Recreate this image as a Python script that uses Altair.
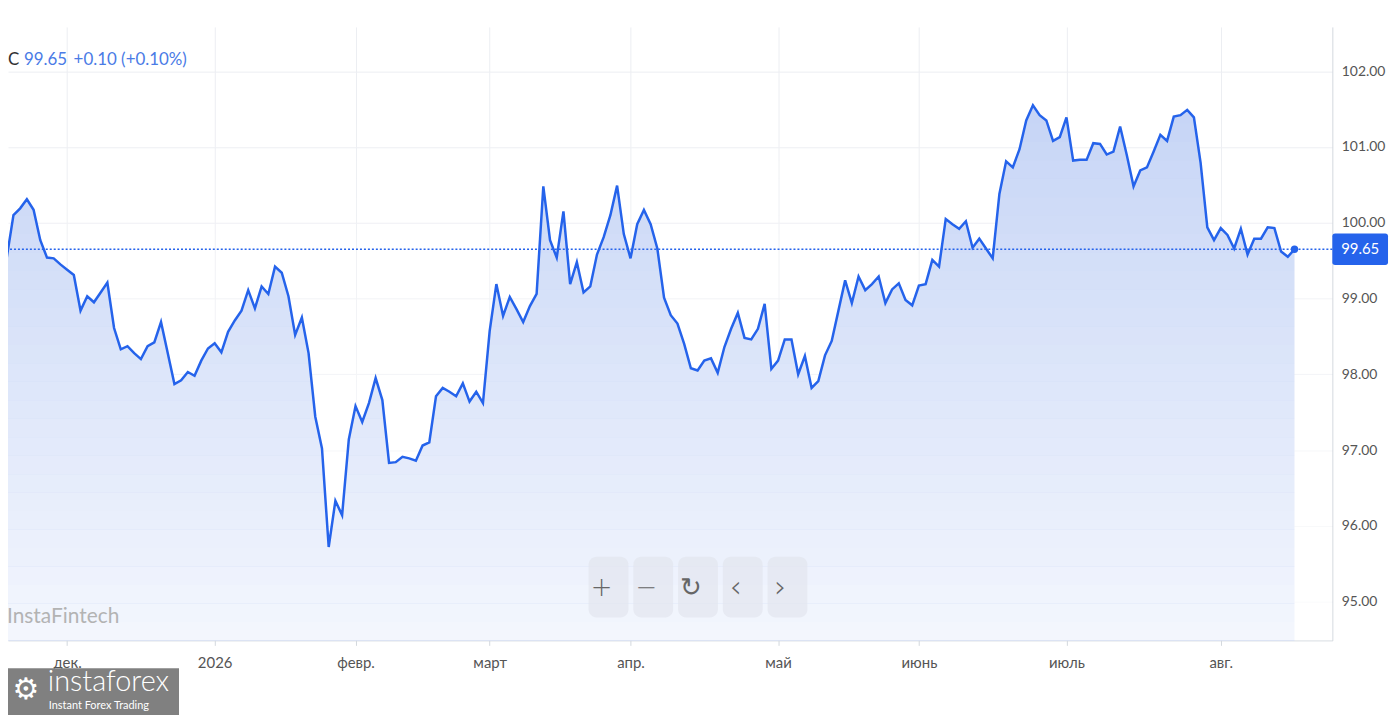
import altair as alt
import pandas as pd

# closing values per trading day, grouped by month
nov = [99.51, 99.54, 100.10, 100.19, 100.31, 100.17, 99.77, 99.54, 99.53, 99.45]
dec = [99.38, 99.31, 98.84, 99.03, 98.95, 99.08, 99.21, 98.61, 98.33, 98.37, 98.28,
       98.20, 98.37, 98.42, 98.69, 98.28, 97.87, 97.92, 98.03, 97.98, 98.18, 98.34]
jan = [98.41, 98.29, 98.56, 98.71, 98.84, 99.11, 98.87, 99.16, 99.06, 99.42, 99.34,
       99.03, 98.52, 98.75, 98.28, 97.44, 97.02, 95.72, 96.33, 96.14, 97.14]
feb = [97.58, 97.37, 97.62, 97.95, 97.66, 96.83, 96.84, 96.91, 96.89, 96.86, 97.06,
       97.10, 97.71, 97.82, 97.77, 97.71, 97.88, 97.64, 97.77, 97.62]
mar = [98.57, 99.19, 98.77, 99.02, 98.86, 98.69, 98.90, 99.06, 100.48, 99.77, 99.54,
       100.15, 99.19, 99.48, 99.08, 99.16, 99.58, 99.81, 100.10, 100.49, 99.85]
apr = [99.53, 99.98, 100.17, 99.98, 99.66, 99.01, 98.78, 98.67, 98.40, 98.08, 98.05,
       98.18, 98.21, 98.02, 98.36, 98.60, 98.81, 98.48, 98.46, 98.60, 98.93, 98.07]
may = [98.18, 98.46, 98.46, 98.00, 98.24, 97.82, 97.91, 98.25, 98.44, 98.84, 99.24,
       98.94, 99.29, 99.11, 99.19, 99.29, 98.94, 99.12, 99.20, 98.98, 98.91]
jun = [99.17, 99.19, 99.51, 99.42, 100.05, 99.98, 99.92, 100.02, 99.67, 99.79, 99.66,
       99.53, 100.38, 100.81, 100.73, 100.97, 101.35, 101.55, 101.42, 101.35, 101.08, 101.13]
jul = [101.39, 100.82, 100.83, 100.83, 101.05, 101.04, 100.90, 100.94, 101.27, 100.89,
       100.48, 100.69, 100.73, 100.94, 101.16, 101.08, 101.40, 101.42, 101.49, 101.39,
       100.79, 99.94, 99.77]
aug = [99.93, 99.84, 99.66, 99.92, 99.58, 99.79, 99.79, 99.94, 99.93, 99.62, 99.55, 99.65]

months = [nov, dec, jan, feb, mar, apr, may, jun, jul, aug]
tick_labels = ["дек.", "2026", "февр.", "март", "апр.", "май", "июнь", "июль", "авг."]
y_ticks = [95, 96, 97, 98, 99, 100, 101, 102]

closes = [v for m in months for v in m]
df = pd.DataFrame({"idx": list(range(len(closes))), "close": closes})

# month start positions (trading-day index)
tick_idx = []
pos = 0
for m in months[:-1]:
    pos += len(m)
    tick_idx.append(pos)

last = closes[-1]
prev = closes[-2]
chg = last - prev
pct = chg / prev * 100
last_df = df.tail(1)

label_expr = "''"
for t, l in zip(reversed(tick_idx), reversed(tick_labels)):
    label_expr = f"datum.value == {t} ? '{l}' : ({label_expr})"

W, H = 1332, 617
BLUE = "#2563EB"
FONT = "Lato"
Y_LO, Y_HI = 94.488, 102.584

xscale = alt.Scale(domain=[1.186, 198.64], nice=False, zero=False)
yscale = alt.Scale(domain=[Y_LO, Y_HI], nice=False, zero=False)

x_axis = alt.Axis(values=tick_idx, labelExpr=label_expr, grid=True, gridColor="#eceef2",
                  domainColor="#d3d8de", tickColor="#d3d8de", tickSize=5,
                  labelFontSize=15, labelFont=FONT, labelPadding=10,
                  labelColor={"condition": {"test": "datum.label == '2026'", "value": "#222222"}, "value": "#555555"},
                  labelFontWeight={"condition": {"test": "datum.label == '2026'", "value": "bold"}, "value": "normal"},
                  labelOverlap=False, labelFlush=False, title=None)
y_axis = alt.Axis(orient="right", values=y_ticks, format=".2f", grid=True, gridColor="#eceef2",
                  domainColor="#d3d8de", ticks=False, labelPadding=9, labelFontSize=14,
                  labelFont=FONT, labelColor="#555555", title=None)

X = alt.X("idx:Q", scale=xscale, axis=x_axis)
Y = alt.Y("close:Q", scale=yscale, axis=y_axis)

area = alt.Chart(df).mark_area(color="#c5d4f6", opacity=1, clip=True).encode(x=X, y=Y)

# vertical fade of the area fill: translucent white bands, stronger toward the bottom
n_bands = 30
top_v = 101.8
step = (top_v - Y_LO) / n_bands
fade = pd.DataFrame({
    "hi": [top_v - k * step for k in range(n_bands)],
    "lo": [top_v - (k + 1) * step for k in range(n_bands)],
    "op": [0.80 * (k + 0.5) / n_bands for k in range(n_bands)],
})
fade_layer = alt.Chart(fade).mark_rect(color="white", clip=True).encode(
    y=alt.Y("hi:Q", scale=yscale, axis=y_axis), y2="lo:Q",
    x=alt.value(0), x2=alt.value(W),
    opacity=alt.Opacity("op:Q", scale=None, legend=None))

line = alt.Chart(df).mark_line(color=BLUE, strokeWidth=2.5, clip=True).encode(x=X, y=Y)
rule = alt.Chart(last_df).mark_rule(color=BLUE, strokeDash=[2, 2], strokeWidth=1.5).encode(y=Y)
dot = alt.Chart(last_df).mark_point(filled=True, size=55, color=BLUE, opacity=1).encode(x=X, y=Y)

tag_shape = ("M-0.9,-0.57 L0.9,-0.57 Q1,-0.57 1,-0.47 L1,0.47 Q1,0.57 0.9,0.57 "
             "L-0.9,0.57 Q-1,0.57 -1,0.47 L-1,-0.47 Q-1,-0.57 -0.9,-0.57 Z")
tag = alt.Chart(last_df).mark_point(shape=tag_shape, filled=True, size=3136, color=BLUE,
                                    opacity=1).encode(x=alt.value(W + 28), y=Y)
tag_text = alt.Chart(last_df).mark_text(color="white", fontSize=15, font=FONT, align="center",
                                        baseline="middle").encode(
    x=alt.value(W + 28), y=Y, text=alt.Text("close:Q", format=".2f"))

hdr_c = alt.Chart(last_df).mark_text(text="C", color="#333333", fontSize=17, font=FONT,
                                     align="left", baseline="middle").encode(
    x=alt.value(0), y=alt.value(33))
hdr_v = alt.Chart(last_df).mark_text(color="#4a7be6", fontSize=17, font=FONT,
                                     align="left", baseline="middle").encode(
    x=alt.value(16), y=alt.value(33), text=alt.Text("close:Q", format=".2f"))
hdr_chg = alt.Chart(last_df).mark_text(text=f"{chg:+.2f} ({pct:+.2f}%)", color="#4a7be6",
                                       fontSize=17, font=FONT, align="left",
                                       baseline="middle").encode(
    x=alt.value(66), y=alt.value(33))

watermark = alt.Chart(last_df).mark_text(text="InstaFintech", color="#b3b3b3", fontSize=21,
                                         font=FONT, align="left", baseline="middle").encode(
    x=alt.value(-1), y=alt.value(594))

# zoom / navigation buttons
glyphs = ["+", "−", "↻", "‹", "›"]
buttons = []
for i, g in enumerate(glyphs):
    buttons.append(alt.Chart(last_df).mark_rect(cornerRadius=8, color="#e3e6ee", opacity=0.7).encode(
        x=alt.value(584 + 45 * i), x2=alt.value(624 + 45 * i),
        y=alt.value(533), y2=alt.value(594)))
    buttons.append(alt.Chart(last_df).mark_text(text=g, color="#666666", fontSize=30 if g in "‹›" else 26,
                                                font="DejaVu Sans", fontWeight=300,
                                                align="center", baseline="middle").encode(
        x=alt.value(597 + 45 * i), y=alt.value(564)))

# logo block below the axis (page y 670..715)
logo_box = alt.Chart(last_df).mark_rect(color="#808080").encode(
    x=alt.value(-8), x2=alt.value(172), y=alt.value(645), y2=alt.value(700))
logo_gear = alt.Chart(last_df).mark_text(text="⚙", color="white", fontSize=30, font="DejaVu Sans",
                                         align="center", baseline="middle").encode(
    x=alt.value(18), y=alt.value(667))
logo_txt = alt.Chart(last_df).mark_text(text="instaforex", color="white", fontSize=29, font=FONT,
                                        fontWeight=300, align="left", baseline="middle").encode(
    x=alt.value(40), y=alt.value(659))
logo_sub = alt.Chart(last_df).mark_text(text="Instant Forex Trading", color="white", fontSize=11,
                                        font=FONT, align="left", baseline="middle").encode(
    x=alt.value(41), y=alt.value(683))

chart = alt.layer(area, fade_layer, line, rule, dot, tag, tag_text, hdr_c, hdr_v, hdr_chg, watermark,
                  *buttons, logo_box, logo_gear, logo_txt, logo_sub).properties(
    width=W, height=H,
    autosize=alt.AutoSizeParams(type="none"),
    padding={"left": 0, "top": 17, "right": 59, "bottom": 74},
    background="white",
).configure_view(strokeWidth=0)

chart.save("out.html", embed_options={"renderer": "svg", "actions": False})
